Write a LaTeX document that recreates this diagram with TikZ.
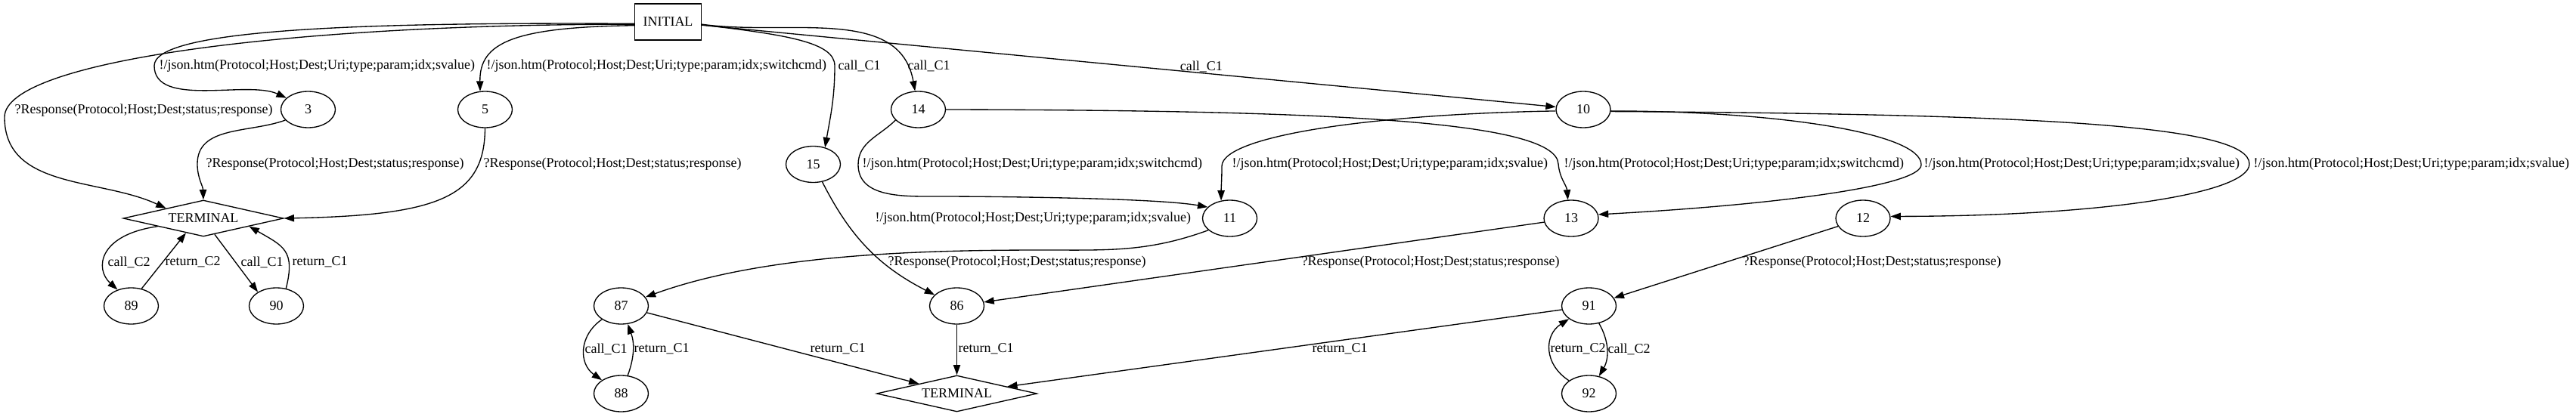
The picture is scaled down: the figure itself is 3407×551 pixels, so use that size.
\documentclass[tikz,border=0pt]{standalone}
\usepackage{fontspec}
\setmainfont{Liberation Serif}
\usetikzlibrary{arrows.meta, shapes.geometric}

\begin{document}
\begin{tikzpicture}[x=0.75pt, y=0.75pt, line width=1pt, font=\fontsize{13.5}{16}\selectfont,
        box/.style={draw, rectangle, minimum width=66pt, minimum height=36pt, inner sep=0pt},
        st/.style={draw, ellipse, minimum width=54pt, minimum height=36pt, inner sep=0pt},
        term/.style={draw, diamond, aspect=4.4, minimum width=159pt, minimum height=36pt, inner sep=1pt},
        arr/.style={-{Triangle[length=10pt, width=7pt]}},
        lbl/.style={inner sep=0pt, anchor=west}]
    \useasboundingbox (0, 0) rectangle (3407, 551);

    \node[box] (init) at (883.5, 522) {INITIAL};
    \node[st] (q3) at (407.5, 406) {3};
    \node[st] (q5) at (641.5, 406) {5};
    \node[st] (q14) at (1214.5, 406) {14};
    \node[st] (q10) at (2094, 406) {10};
    \node[st] (q15) at (1075.5, 333.5) {15};
    \node[term] (term1) at (269, 262) {TERMINAL};
    \node[st] (q11) at (1626.5, 262) {11};
    \node[st] (q13) at (2078, 262) {13};
    \node[st] (q12) at (2464, 262) {12};
    \node[st] (q89) at (173.5, 146) {89};
    \node[st] (q90) at (365.5, 146) {90};
    \node[st] (q87) at (821.5, 146) {87};
    \node[st] (q86) at (1265.5, 146) {86};
    \node[st] (q91) at (2101.5, 146) {91};
    \node[st] (q88) at (821.5, 30) {88};
    \node[term] (term2) at (1265.5, 30) {TERMINAL};
    \node[st] (q92) at (2101.5, 30) {92};

    \draw[arr] (init.184) .. controls (380, 519) and (6, 470) .. (6, 396) to[out=-90, in=155] (term1.165) node[lbl] (lb1) at (19, 405) {?Response(Protocol;Host;Dest;status;response)};
    \draw[arr] (init.183) .. controls (450, 522) and (204, 510) .. (204, 464) to[out=-90, in=155, looseness=0.8] (q3.152) node[lbl] (lb2) at (210, 464) {!/json.htm(Protocol;Host;Dest;Uri;type;param;idx;svalue)};
    \draw[arr] (init.186) .. controls (680, 515) and (634, 495) .. (q5.105) node[lbl] (lb3) at (643, 464) {!/json.htm(Protocol;Host;Dest;Uri;type;param;idx;switchcmd)};
    \draw[arr] (init.-5) .. controls (1040, 505) and (1104, 495) .. (1104, 464) to[out=-90, in=80] (q15.55) node[lbl] (lb4) at (1108, 464) {call\_C1};
    \draw[arr] (init.-4) to[out=-8, in=100] (q14.100) node[lbl] (lb5) at (1200, 464) {call\_C1};
    \draw[arr] (init) -- node[lbl, above, pos=0.585] (lb6) {call\_C1} (q10);

    \draw[arr] (q3.205) to[out=200, in=90] (261, 334) to[out=-90, in=92] (term1.north) node[lbl] (lb7) at (272, 334) {?Response(Protocol;Host;Dest;status;response)};
    \draw[arr] (q5.south) .. controls (641, 290) and (580, 266) .. (term1.east) node[lbl] (lb8) at (639, 334) {?Response(Protocol;Host;Dest;status;response)};
    \draw[arr] (q14.205) to[out=225, in=90] (1135, 333) to[out=-90, in=180] (1240, 291) to[out=0, in=170, looseness=0.5] (q11.153) node[lbl] (lb9) at (1140, 334) {!/json.htm(Protocol;Host;Dest;Uri;type;param;idx;switchcmd)};
    \draw[arr] (q10.183) .. controls (1815, 400) and (1616, 371) .. (1616, 331) to[out=-90, in=90] (q11.116) node[lbl] (lb10) at (1629, 334) {!/json.htm(Protocol;Host;Dest;Uri;type;param;idx;svalue)};
    \draw[arr] (q14.east) .. controls (1750, 405) and (2058, 392) .. (2061, 334) to[out=-85, in=95] (q13.100) node[lbl] (lb11) at (2068, 334) {!/json.htm(Protocol;Host;Dest;Uri;type;param;idx;switchcmd)};
    \draw[arr] (q10.-3) .. controls (2350, 404) and (2541, 375) .. (2541, 333) .. controls (2541, 305) and (2350, 280) .. (q13.8) node[lbl] (lb12) at (2544, 334) {!/json.htm(Protocol;Host;Dest;Uri;type;param;idx;svalue)};
    \draw[arr] (q10.-4) .. controls (2700, 400) and (2975, 385) .. (2975, 334) .. controls (2975, 295) and (2780, 265) .. (q12.4) node[lbl] (lb13) at (2980, 334) {!/json.htm(Protocol;Host;Dest;Uri;type;param;idx;svalue)};
    \draw[arr] (q15) to[bend right=18] (q86) node[lbl] (lb14) at (1157, 262) {!/json.htm(Protocol;Host;Dest;Uri;type;param;idx;svalue)};

    \draw[arr] (q11.209) to[out=200, in=0] (1380, 220) to[out=180, in=20, looseness=0.8] (q87.20) node[lbl] (lb15) at (1174, 204) {?Response(Protocol;Host;Dest;status;response)};
    \draw[arr] (q13) -- (q86) node[lbl] (lb16) at (1721, 204) {?Response(Protocol;Host;Dest;status;response)};
    \draw[arr] (q12) -- (q91) node[lbl] (lb17) at (2305, 204) {?Response(Protocol;Host;Dest;status;response)};
    \draw[arr] (q87) -- (term2) node[lbl] (lb18) at (1071, 89) {return\_C1};
    \draw[arr] (q86) -- (term2) node[lbl] (lb19) at (1267, 89) {return\_C1};
    \draw[arr] (q91) -- (term2) node[lbl] (lb20) at (1735, 89) {return\_C1};
    \draw[arr] (q87) to[bend right=55, looseness=1.2] (q88) node[lbl] (lb21) at (773, 89) {call\_C1};
    \draw[arr] (q88) to[bend right=20] (q87) node[lbl] (lb22) at (838, 89) {return\_C1};
    \draw[arr] (q91) to[bend left=30] (q92) node[lbl] (lb27) at (2126, 89) {call\_C2};
    \draw[arr] (q92) to[bend left=57, looseness=1.25] (q91) node[lbl] (lb28) at (2050, 89) {return\_C2};

    \draw[arr] (term1.190) .. controls (130, 240) and (125, 195) .. (q89.130) node[lbl] (lb23) at (142, 204) {call\_C2};
    \draw[arr] (q89.59) -- (term1.220) node[lbl] (lb24) at (218, 204) {return\_C2};
    \draw[arr] (term1.-55) -- (q90.143) node[lbl] (lb25) at (318, 204) {call\_C1};
    \draw[arr] (q90.61) to[out=76, in=-30, looseness=1.4] (term1.-10) node[lbl] (lb26) at (386, 204) {return\_C1};
\end{tikzpicture}
\end{document}
